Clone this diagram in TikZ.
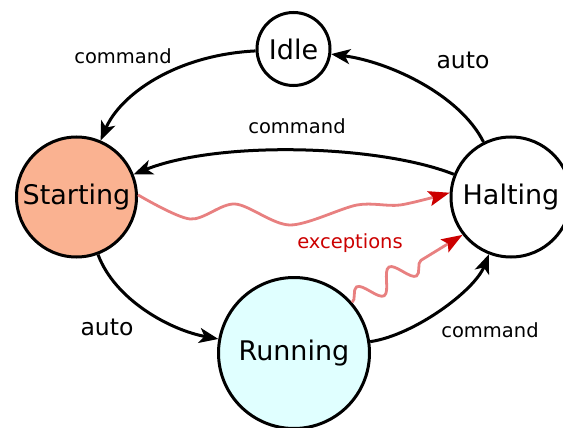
\documentclass[tikz,border=0pt]{standalone}
\usepackage{fontspec}
\setmainfont{DejaVu Sans}
\usetikzlibrary{arrows.meta, decorations.pathmorphing}

\definecolor{startfill}{RGB}{250,178,145}
\definecolor{runfill}{RGB}{224,255,255}
\definecolor{exline}{RGB}{232,128,128}
\definecolor{exred}{RGB}{204,0,0}

\begin{document}
\begin{tikzpicture}[x=1pt, y=-1pt,
  state/.style={circle, draw=black, line width=3pt, inner sep=0pt,
    font=\fontsize{27}{30}\selectfont},
  trans/.style={line width=3pt,
    -{Stealth[length=19pt, width=15pt, inset=5pt]}},
  exc/.style={draw=exline, line width=2.8pt,
    -{Stealth[length=21pt, width=15pt, inset=4pt, color=exred]}},
  cmdlabel/.style={font=\fontsize{19.5}{22}\selectfont, anchor=base},
  autolabel/.style={font=\fontsize{23.5}{26}\selectfont, anchor=base},
]
\useasboundingbox (0,0) rectangle (563,428);

% states
\node[state, minimum size=73pt] (idle) at (293.5,49) {Idle};
\node[state, minimum size=120pt, fill=startfill] (starting) at (76.5,197) {Starting};
\node[state, minimum size=120pt, fill=white] (halting) at (511,197) {Halting};
\node[state, minimum size=151pt, fill=runfill] (running) at (294,353) {Running};

% regular transitions
\draw[trans] (idle) .. controls (175,55) and (120,95) .. (starting);
\draw[trans] (halting) .. controls (460,95) and (390,62) .. (idle);
\draw[trans] (halting) .. controls (380,145) and (220,140) .. (starting);
\draw[trans] (starting) .. controls (115,300) and (170,330) .. (running);
\draw[trans] (running) .. controls (415,335) and (475,290) .. (halting);

% exception transitions
\draw[exc] plot[smooth] coordinates {(starting.2) (190,219) (235,204)
  (290,225) (357,205) (400,205) (halting.176)};
\draw[exc, decorate, decoration={snake, amplitude=11pt,
    segment length=38pt, post length=46pt}]
  (running.41) -- (halting.218);

% transition labels
\node[cmdlabel] (lcmdidle) at (123,64) {command};
\node[autolabel] (lautoidle) at (463,69) {auto};
\node[cmdlabel] (lcmdhalt) at (297,134) {command};
\node[autolabel] (lautorun) at (107,335) {auto};
\node[cmdlabel] (lcmdrun) at (490,337) {command};
\node[cmdlabel, text=exred] (lexc) at (350,248) {exceptions};
\end{tikzpicture}
\end{document}
